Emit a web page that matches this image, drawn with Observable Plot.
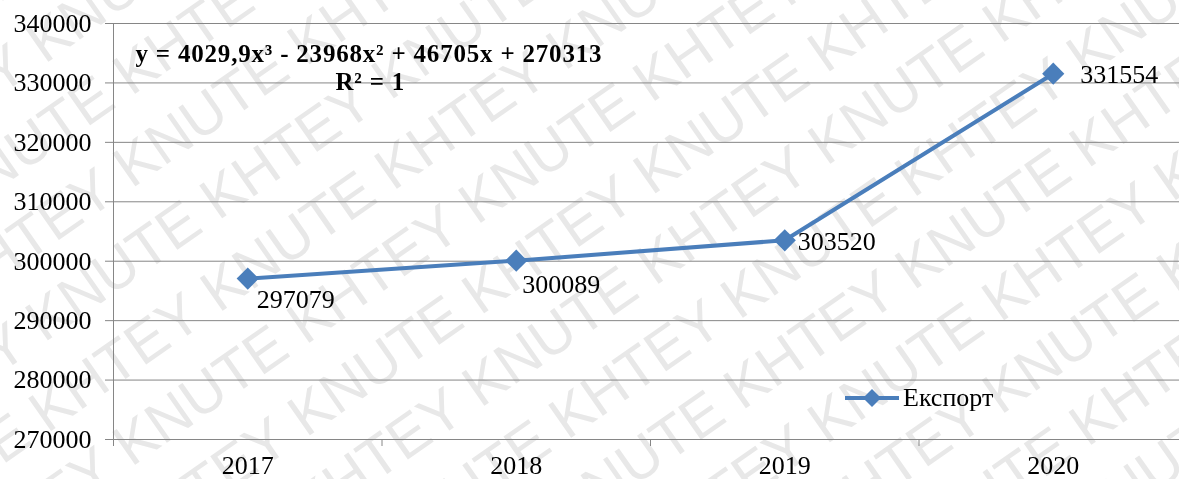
<!DOCTYPE html>
<html>
<head>
<meta charset="utf-8">
<script src="https://cdn.jsdelivr.net/npm/d3@7"></script>
<script src="https://cdn.jsdelivr.net/npm/@observablehq/plot@0.6"></script>
<style>
  html, body { margin: 0; padding: 0; background: #fff; }
  #wrap { position: relative; width: 1179px; height: 479px; overflow: hidden; }
  #wm { position: absolute; left: 0; top: 0; }
  #chart { position: absolute; left: 0; top: 0; }
  #chart svg { background: transparent !important; }
  #chart svg, #chart svg text { font-family: "Liberation Serif", "Times New Roman", serif !important; }
  #chart svg .eq text { letter-spacing: 0.8px; }
  #legend { position: absolute; left: 845px; top: 383px; display: flex; align-items: center;
            font-family: "Liberation Serif", "Times New Roman", serif; font-size: 26px; color: #000; }
</style>
</head>
<body>
<div id="wrap">
  <canvas id="wm" width="1179" height="479"></canvas>
  <div id="chart"></div>
  <div id="legend"></div>
</div>
<script>
const years = [2017, 2018, 2019, 2020];
const exportValues = [297079, 300089, 303520, 331554];
const yTicks = [270000, 280000, 290000, 300000, 310000, 320000, 330000, 340000];
const seriesName = "Експорт";
const equation = "y = 4029,9x³ - 23968x² + 46705x + 270313";
const rSquared = "R² = 1";
const watermarkText = "KHTEY KNUTE ";
const lineColor = "#4a7ebb";

const data = years.map((y, i) => ({year: y, value: exportValues[i]}));
const boundaries = years.map(y => y - 0.5).concat([years[years.length - 1] + 0.5]);

// background watermark (drawn as pixels)
(function () {
  const c = document.getElementById("wm");
  const ctx = c.getContext("2d");
  ctx.fillStyle = "#fff";
  ctx.fillRect(0, 0, c.width, c.height);
  ctx.save();
  ctx.translate(c.width / 2, c.height / 2);
  ctx.rotate(-35 * Math.PI / 180);
  ctx.font = "58px 'Liberation Sans', Arial, sans-serif";
  ctx.fillStyle = "#e8e8e8";
  const line = watermarkText.repeat(12);
  for (let r = -12; r <= 12; r++) {
    ctx.fillText(line, -1400 + (r % 2) * 160, r * 76);
  }
  ctx.restore();
})();

const serif = "Liberation Serif, Times New Roman, serif";

const chart = Plot.plot({
  width: 1179,
  height: 479,
  marginLeft: 113,
  marginRight: 0,
  marginTop: 23,
  marginBottom: 40,
  style: {fontFamily: serif, fontSize: "26px", color: "#000", background: "transparent", overflow: "visible"},
  x: {type: "linear", domain: [years[0] - 0.5, years[years.length - 1] + 0.5], range: [113, 1187]},
  y: {domain: [270000, 340000]},
  marks: [
    Plot.gridY(yTicks, {stroke: "#868686", strokeOpacity: 1, strokeWidth: 1}),
    Plot.axisY(yTicks, {tickSize: 8, tickPadding: 14, stroke: "#868686", label: null, fontSize: 26, tickFormat: d => String(d)}),
    Plot.ruleX([years[0] - 0.5], {stroke: "#868686"}),
    Plot.axisX(boundaries, {tickSize: 7, tickFormat: () => "", stroke: "#868686", label: null}),
    Plot.axisX(years, {tickSize: 0, tickPadding: 16, label: null, fontSize: 26, tickFormat: d => String(d)}),
    Plot.line(data, {x: "year", y: "value", stroke: lineColor, strokeWidth: 4}),
    Plot.dot(data, {x: "year", y: "value", symbol: "diamond2", r: 10, fill: lineColor, stroke: "none"}),
    Plot.text([data[0]], {x: "year", y: "value", text: d => String(d.value), textAnchor: "start", dx: 9, dy: 21, fontSize: 26}),
    Plot.text([data[1]], {x: "year", y: "value", text: d => String(d.value), textAnchor: "start", dx: 6, dy: 24, fontSize: 26}),
    Plot.text([data[2]], {x: "year", y: "value", text: d => String(d.value), textAnchor: "start", dx: 13, dy: 1, fontSize: 26}),
    Plot.text([data[3]], {x: "year", y: "value", text: d => String(d.value), textAnchor: "start", dx: 27, dy: 1, fontSize: 26}),
    Plot.text([equation], {frameAnchor: "top-left", dx: 22, dy: 21, text: d => d, fontWeight: "bold", fontSize: 25, textAnchor: "start", className: "eq"}),
    Plot.text([rSquared], {frameAnchor: "top-left", dx: 222, dy: 49, text: d => d, fontWeight: "bold", fontSize: 25, textAnchor: "start", className: "eq"})
  ]
});
document.getElementById("chart").appendChild(chart);

document.getElementById("legend").innerHTML =
  `<svg width="56" height="30" style="margin-right:2px"><line x1="0" y1="15" x2="54" y2="15" stroke="${lineColor}" stroke-width="4"/>` +
  `<path d="M27,6 L36,15 L27,24 L18,15 Z" fill="${lineColor}"/></svg><span>${seriesName}</span>`;
</script>
</body>
</html>
